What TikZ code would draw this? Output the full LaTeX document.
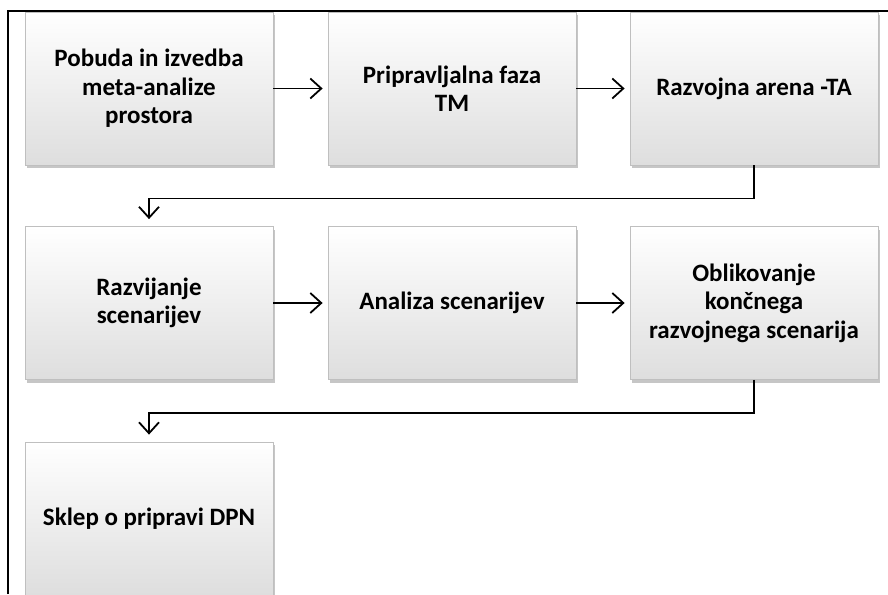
\documentclass[tikz,border=0pt]{standalone}
\usepackage{fontspec}
\setmainfont{Carlito}
\usetikzlibrary{arrows.meta,shadows}

\tikzset{
  korak/.style={rectangle, minimum width=248pt, minimum height=153pt, align=center,
    top color=white, bottom color=gray!26, draw=gray!50, line width=0.8pt,
    drop shadow={shadow xshift=2pt, shadow yshift=-3pt, opacity=0.45},
    font=\bfseries\fontsize{25}{28.5}\selectfont},
  puscica/.style={-{Straight Barb[length=11pt,width=20pt]}, line width=1.8pt}
}

\begin{document}
\begin{tikzpicture}[x=1pt,y=-1pt]
                \useasboundingbox (0,0) rectangle (888,594);
                \clip (0,0) rectangle (888,594);
                % prva vrsta
                \node[korak] (pobuda) at (149,88.5) {Pobuda in izvedba\\meta-analize\\prostora};
                \node[korak] (priprava) at (452,88.5) {Pripravljalna faza\\TM};
                \node[korak] (arena) at (754,88.5) {Razvojna arena -TA};
                % druga vrsta
                \node[korak] (razvijanje) at (149,303) {Razvijanje\\scenarijev};
                \node[korak] (analiza) at (452,303) {Analiza scenarijev};
                \node[korak] (oblikovanje) at (754,303) {Oblikovanje\\končnega\\razvojnega scenarija};
                % tretja vrsta
                \node[korak] (sklep) at (149,518.5) {Sklep o pripravi DPN};
                \draw[puscica, shorten >=5pt] (pobuda.east) -- (priprava.west);
                \draw[puscica, shorten >=5pt] (priprava.east) -- (arena.west);
                \draw[puscica, shorten >=5pt] (razvijanje.east) -- (analiza.west);
                \draw[puscica, shorten >=5pt] (analiza.east) -- (oblikovanje.west);
                \draw[puscica, shorten >=7pt] (arena.south) -- ++(0,33) -| (razvijanje.north);
                \draw[puscica, shorten >=7pt] (oblikovanje.south) -- ++(0,33) -| (sklep.north);
                % okvir
                \draw[line width=1.8pt] (8,594) -- (8,11) -- (888,11);
            \end{tikzpicture}
\end{document}
